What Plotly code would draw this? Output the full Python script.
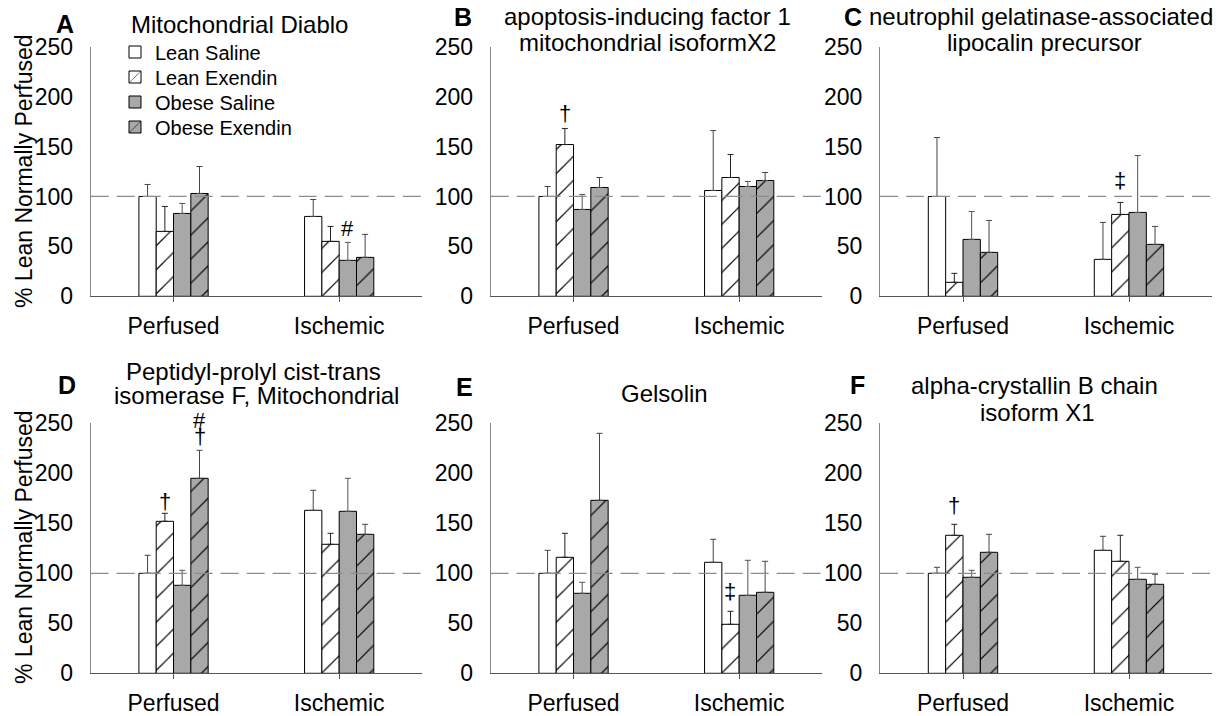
import plotly.graph_objects as go

# ---------------- data ----------------
groups = ["Perfused", "Ischemic"]
series = ["Lean Saline", "Lean Exendin", "Obese Saline", "Obese Exendin"]
panel_letters = ["A", "B", "C", "D", "E", "F"]
panel_titles = [
    ["Mitochondrial Diablo"],
    ["apoptosis-inducing factor 1", "mitochondrial isoformX2"],
    ["neutrophil gelatinase-associated", "lipocalin precursor"],
    ["Peptidyl-prolyl cist-trans", "isomerase F, Mitochondrial"],
    ["Gelsolin"],
    ["alpha-crystallin B chain", "isoform X1"],
]
y_ticks = [0, 50, 100, 150, 200, 250]
reference_level = 100

# means / upper error lengths per series: [Perfused, Ischemic]
a_means = [[100, 80], [65, 55], [83, 36], [103, 39]]
a_errs = [[12, 17], [25, 15], [10, 18], [27, 23]]
b_means = [[100, 106], [152, 119], [87, 110], [109, 116]]
b_errs = [[10, 60], [16, 23], [15, 5], [10, 8]]
c_means = [[100, 37], [14, 82], [57, 84], [44, 52]]
c_errs = [[59, 37], [9, 12], [28, 57], [32, 18]]
d_means = [[100, 163], [152, 129], [88, 162], [195, 139]]
d_errs = [[18, 20], [8, 11], [15, 33], [28, 10]]
e_means = [[100, 111], [116, 49], [80, 78], [173, 81]]
e_errs = [[23, 23], [24, 13], [11, 35], [67, 31]]
f_means = [[100, 123], [138, 112], [96, 94], [121, 89]]
f_errs = [[6, 14], [11, 26], [7, 12], [18, 10]]

all_means = [a_means, b_means, c_means, d_means, e_means, f_means]
all_errs = [a_errs, b_errs, c_errs, d_errs, e_errs, f_errs]

# significance marks: (panel index, group, series index, symbol, y value, extra pixel lift)
sig_marks = [
    (0, "Ischemic", 2, "#", 68, 0),
    (1, "Perfused", 1, "†", 183, 0),
    (2, "Ischemic", 1, "‡", 116, 0),
    (3, "Perfused", 1, "†", 172, 0),
    (3, "Perfused", 3, "†", 237, 0),
    (3, "Perfused", 3, "#", 237, 16),
    (4, "Ischemic", 1, "‡", 82, 0),
    (5, "Perfused", 1, "†", 168, 0),
]

# ---------------- style / geometry ----------------
W, H = 1218, 716
FONT = "Arial, Liberation Sans, Helvetica, sans-serif"
GRAY = "#a8a8a8"
fills = ["white", "white", GRAY, GRAY]
hatch = [False, True, False, True]
err_colors = ["#444444", "#222222", "#555555", "#444444"]

# panel geometry in pixels: (x_left, x_right), (y_top(250), y_bottom(0))
col_x = [(90.7, 422.0), (490.7, 822.0), (880.0, 1212.0)]
row_y = [(46.7, 296.3), (423.3, 673.3)]


def px(x):
    return x / W


def py(y):
    return 1 - y / H


fig = go.Figure()
layout = {}
shapes = []
annotations = []

bar_offsets = [-26, -8.7, 8.7, 26]
legend_names = ["legend", "legend2", "legend3", "legend4"]
legend_rows = [52, 77, 102, 127]

for p in range(6):
    r, c = divmod(p, 3)
    idx = "" if p == 0 else str(p + 1)
    xa, ya = "x" + idx, "y" + idx
    for s in range(4):
        pattern = dict(shape="")
        if hatch[s]:
            pattern = dict(shape="/", fgcolor="black", bgcolor=fills[s],
                           size=17, solidity=0.07, fillmode="replace")
        fig.add_trace(go.Bar(
            x=groups, y=all_means[p][s], name=series[s],
            xaxis=xa, yaxis=ya, legendgroup=series[s],
            legend=legend_names[s],
            showlegend=(p == 0),
            marker=dict(color=fills[s], line=dict(color="black", width=1),
                        pattern=pattern),
            error_y=dict(type="data", array=all_errs[p][s],
                         arrayminus=[0] * len(groups), symmetric=False,
                         color=err_colors[s], thickness=1, width=3),
        ))
    x0, x1 = col_x[c]
    y0, y1 = row_y[r]
    layout["xaxis" + idx] = dict(
        domain=[px(x0), px(x1)], anchor=ya, type="category",
        range=[-0.5, 1.5], showline=True, linecolor="#555555", linewidth=1,
        ticks="outside", ticklen=5, tickcolor="#555555",
        tickfont=dict(size=23, color="black", family=FONT),
        ticklabelstandoff=4, showgrid=False, zeroline=False, fixedrange=True,
        automargin=False,
    )
    layout["yaxis" + idx] = dict(
        domain=[py(y1), py(y0)], anchor=xa, range=[0, 250],
        tickvals=y_ticks, showline=True, linecolor="#888888", linewidth=1,
        ticks="", tickfont=dict(size=23, color="black", family=FONT),
        ticklabelstandoff=12, showgrid=False, zeroline=False, fixedrange=True,
        automargin=False,
    )
    shapes.append(dict(
        type="line", xref=xa + " domain", yref=ya, x0=0, x1=1,
        y0=reference_level, y1=reference_level, layer="above",
        line=dict(color="#8c8c8c", width=1.3, dash="18px,8px"),
    ))

# panel letters and titles (pixel positions)
letter_pos = [(65, 24), (463, 17), (853, 17), (67, 385), (464, 387), (857, 385)]
title_pos = [
    [(239, 25)],
    [(647, 17), (647, 43)],
    [(1041, 17), (1044, 43)],
    [(253, 372), (256, 395)],
    [(664, 393)],
    [(1034, 385), (1037, 412)],
]
for p in range(6):
    lx, ly = letter_pos[p]
    annotations.append(dict(
        text="<b>" + panel_letters[p] + "</b>", x=px(lx), y=py(ly),
        xref="paper", yref="paper", showarrow=False, borderpad=0,
        xanchor="center", yanchor="middle",
        font=dict(size=25, color="black", family=FONT)))
    for line, (tx, ty) in zip(panel_titles[p], title_pos[p]):
        annotations.append(dict(
            text=line, x=px(tx), y=py(ty), xref="paper", yref="paper",
            showarrow=False, borderpad=0, xanchor="center", yanchor="middle",
            font=dict(size=24, color="black", family=FONT)))

# y-axis titles
for cy in (171, 547):
    annotations.append(dict(
        text="% Lean Normally Perfused", x=px(24), y=py(cy),
        xref="paper", yref="paper", showarrow=False, textangle=-90,
        borderpad=0, xanchor="center", yanchor="middle",
        font=dict(size=23, color="black", family=FONT)))

# significance marks
for p, g, s, sym, yv, lift in sig_marks:
    idx = "" if p == 0 else str(p + 1)
    annotations.append(dict(
        text=sym, x=g, y=yv, xref="x" + idx, yref="y" + idx,
        xshift=bar_offsets[s], yshift=lift, showarrow=False, borderpad=0,
        xanchor="center", yanchor="middle",
        font=dict(size=22, color="black", family=FONT)))

legends = {}
for name, row in zip(legend_names, legend_rows):
    legends[name] = dict(
        x=px(115), y=py(row), xanchor="left", yanchor="middle",
        bgcolor="rgba(0,0,0,0)", borderwidth=0,
        font=dict(size=20, color="black", family=FONT), itemwidth=30)

fig.update_layout(
    width=W, height=H,
    margin=dict(l=0, r=0, t=0, b=0, pad=0, autoexpand=False),
    paper_bgcolor="white", plot_bgcolor="white",
    barmode="group", bargap=0.582, bargroupgap=0,
    font=dict(family=FONT, color="black"),
    showlegend=True,
    shapes=shapes, annotations=annotations,
    **legends,
    **layout,
)

# remove the default page margin so the figure fills the window exactly
fig.write_html(
    "out.html",
    config={"displayModeBar": False},
    post_script="document.body.style.margin='0';document.body.style.overflow='hidden';",
)
